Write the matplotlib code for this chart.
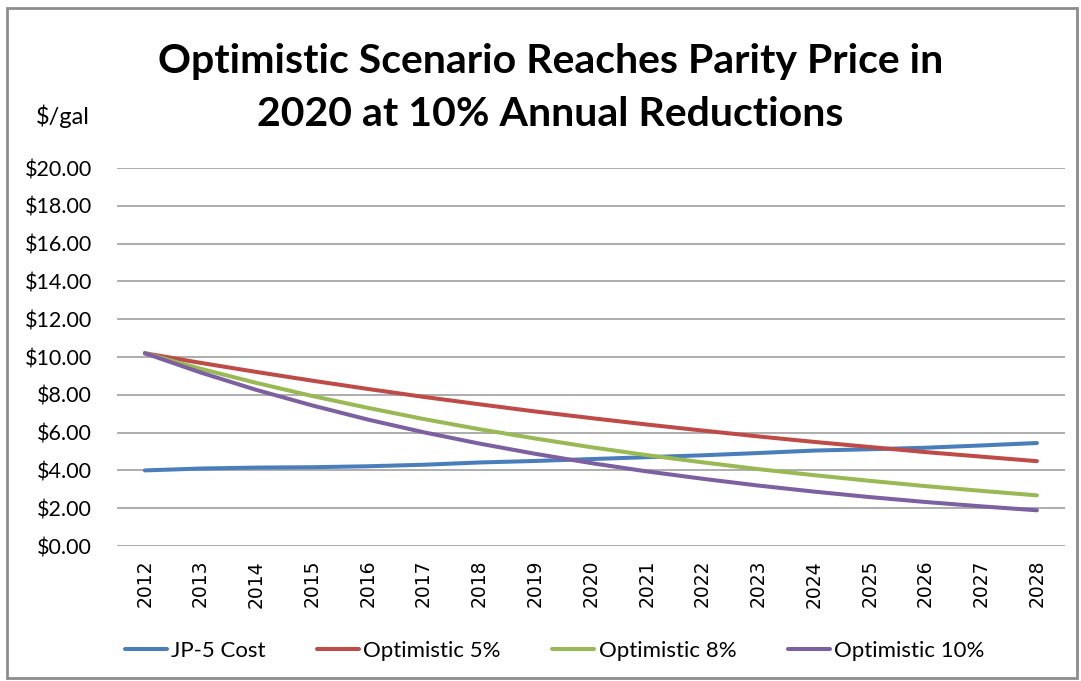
import numpy as np
import matplotlib
matplotlib.use('Agg')
import matplotlib.pyplot as plt
from matplotlib.patches import Rectangle

plt.rcParams['font.family'] = ['Lato', 'DejaVu Sans']

years = [str(y) for y in range(2012, 2029)]
jp5 = [4.00, 4.10, 4.15, 4.17, 4.22, 4.30, 4.42, 4.50, 4.60, 4.70, 4.80, 4.92, 5.05, 5.12, 5.20, 5.32, 5.45]
opt5 = [10.20, 9.69, 9.21, 8.75, 8.31, 7.89, 7.50, 7.12, 6.77, 6.43, 6.11, 5.80, 5.51, 5.24, 4.97, 4.73, 4.49]
opt8 = [10.20, 9.38, 8.63, 7.94, 7.31, 6.72, 6.18, 5.69, 5.23, 4.81, 4.43, 4.07, 3.75, 3.45, 3.17, 2.92, 2.68]
opt10 = [10.20, 9.18, 8.26, 7.44, 6.69, 6.02, 5.42, 4.88, 4.39, 3.95, 3.56, 3.20, 2.88, 2.59, 2.33, 2.10, 1.89]
series = [('JP-5 Cost', jp5, '#4A7EBB'),
          ('Optimistic 5%', opt5, '#BE4B48'),
          ('Optimistic 8%', opt8, '#98B954'),
          ('Optimistic 10%', opt10, '#7D60A0')]
yticks = np.arange(0, 21, 2)

fig = plt.figure(figsize=(10.81, 6.81), dpi=100)
ax = fig.add_axes([0.1082, 0.1982, 0.8768, 0.5551])

x = np.arange(len(years))
for name, vals, col in series:
    ax.plot(x, vals, color=col, lw=2.9, label=name, solid_capstyle='round')

ax.set_xlim(-0.5, len(years) - 0.5)
ax.set_ylim(0, 20)
ax.set_yticks(yticks)
ax.set_yticklabels([f'${v:.2f}' for v in yticks], fontsize=15.5)
ax.set_xticks(x)
ax.set_xticklabels(years, rotation=90, fontsize=13.5, fontfamily='DejaVu Sans')
ax.tick_params(length=0, pad=10)
ax.tick_params(axis='y', pad=18)
for s in ax.spines.values():
    s.set_visible(False)
ax.grid(axis='y', color='#A0A0A0', lw=1.2)
ax.set_axisbelow(True)

fig.text(0.509, 0.910, 'Optimistic Scenario Reaches Parity Price in', ha='center', va='center',
         fontsize=29.5, fontweight='bold')
fig.text(0.509, 0.832, '2020 at 10% Annual Reductions', ha='center', va='center',
         fontsize=29.5, fontweight='bold')
fig.text(0.058, 0.829, '$/gal', ha='center', va='center', fontsize=17)

fig.legend(loc='center', bbox_to_anchor=(0.513, 0.044), ncol=4, frameon=False, fontsize=16,
           handlelength=1.9, handletextpad=0.2, columnspacing=2.3)

fig.patches.append(Rectangle((0.0065, 0.004), 0.99, 0.984, transform=fig.transFigure,
                             fill=False, ec='#8C8C8C', lw=2))

fig.savefig('out.png', dpi=100)
